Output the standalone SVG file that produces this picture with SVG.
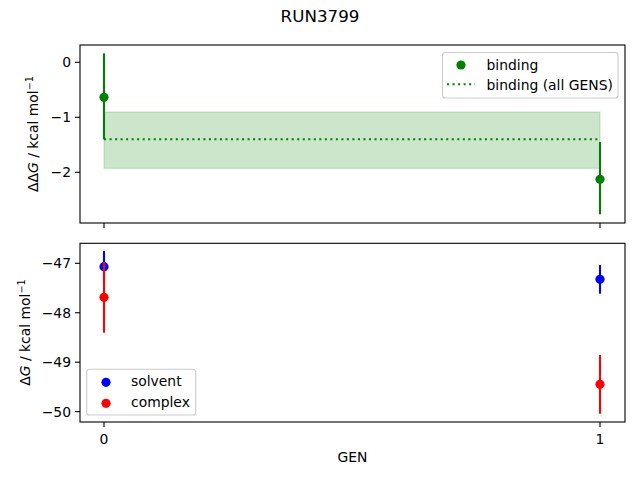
<svg xmlns="http://www.w3.org/2000/svg" width="640" height="480" viewBox="0 0 640 480">
<style>
text{font-family:"DejaVu Sans",sans-serif;font-size:13.9px;fill:#000}
.spine{fill:none;stroke:#000;stroke-width:1.1}
.tick{stroke:#000;stroke-width:1.1}
.yt{text-anchor:end}
.xt{text-anchor:middle}
.eb{stroke-width:2.08;fill:none}
.leg{fill:#fff;fill-opacity:0.8;stroke:#cccccc;stroke-width:1.1}
</style>
<rect width="640" height="480" fill="#fff"/>
<text id="title" x="320" y="22" text-anchor="middle" style="font-size:16.7px">RUN3799</text>

<g id="top-axes">
<rect x="104" y="112" width="496" height="56.3" fill="#008000" fill-opacity="0.2" stroke="#008000" stroke-opacity="0.2" stroke-width="1.1"/>
<line x1="104" y1="139.3" x2="600" y2="139.3" stroke="#008000" stroke-width="2.08" stroke-dasharray="2.08 3.44"/>
<line class="eb" x1="104" y1="53.3" x2="104" y2="139.3" stroke="#008000"/>
<circle cx="104" cy="97.3" r="4.6" fill="#008000"/>
<line class="eb" x1="600" y1="142" x2="600" y2="214.3" stroke="#008000"/>
<circle cx="600" cy="179.3" r="4.6" fill="#008000"/>
<rect class="spine" x="80" y="45" width="545" height="178"/>
<line class="tick" x1="104" y1="223" x2="104" y2="228"/>
<line class="tick" x1="600" y1="223" x2="600" y2="228"/>
<line class="tick" x1="75" y1="62.3" x2="80" y2="62.3"/>
<line class="tick" x1="75" y1="117.3" x2="80" y2="117.3"/>
<line class="tick" x1="75" y1="172.3" x2="80" y2="172.3"/>
<text class="yt" x="71" y="67.3">0</text>
<text class="yt" x="71" y="122.3">−1</text>
<text class="yt" x="71" y="177.3">−2</text>
<text transform="translate(38,134) rotate(-90)" text-anchor="middle">ΔΔ<tspan font-style="italic">G</tspan> / kcal mol<tspan dy="-5" style="font-size:9.7px">−1</tspan></text>
<g id="legend-top">
<rect class="leg" x="442.5" y="52.5" width="175.5" height="45.5" rx="2.8"/>
<circle cx="461" cy="65" r="4.6" fill="#008000"/>
<text x="486.5" y="70">binding</text>
<line x1="447" y1="84.3" x2="475" y2="84.3" stroke="#008000" stroke-width="2.08" stroke-dasharray="2.08 3.44"/>
<text x="486.5" y="89.5">binding (all GENS)</text>
</g>
</g>

<g id="bottom-axes">
<line class="eb" x1="104" y1="251" x2="104" y2="282.4" stroke="#0000ff"/>
<circle cx="104" cy="266.7" r="4.6" fill="#0000ff"/>
<line class="eb" x1="104" y1="262" x2="104" y2="332.7" stroke="#ff0000"/>
<circle cx="104" cy="297.3" r="4.6" fill="#ff0000"/>
<line class="eb" x1="600" y1="265" x2="600" y2="293.7" stroke="#0000ff"/>
<circle cx="600" cy="279.3" r="4.6" fill="#0000ff"/>
<line class="eb" x1="600" y1="355" x2="600" y2="413.7" stroke="#ff0000"/>
<circle cx="600" cy="384.3" r="4.6" fill="#ff0000"/>
<rect class="spine" x="80" y="243.3" width="545" height="178.7"/>
<line class="tick" x1="104" y1="422" x2="104" y2="427"/>
<line class="tick" x1="600" y1="422" x2="600" y2="427"/>
<text class="xt" x="104" y="443.5">0</text>
<text class="xt" x="600" y="443.5">1</text>
<line class="tick" x1="75" y1="263.3" x2="80" y2="263.3"/>
<line class="tick" x1="75" y1="312.75" x2="80" y2="312.75"/>
<line class="tick" x1="75" y1="362.2" x2="80" y2="362.2"/>
<line class="tick" x1="75" y1="411.65" x2="80" y2="411.65"/>
<text class="yt" x="71" y="268.3">−47</text>
<text class="yt" x="71" y="317.75">−48</text>
<text class="yt" x="71" y="367.2">−49</text>
<text class="yt" x="71" y="416.65">−50</text>
<text transform="translate(30,332.5) rotate(-90)" text-anchor="middle">Δ<tspan font-style="italic">G</tspan> / kcal mol<tspan dy="-5" style="font-size:9.7px">−1</tspan></text>
<text class="xt" x="352.5" y="462">GEN</text>
<g id="legend-bottom">
<rect class="leg" x="86.7" y="369.3" width="109" height="45.7" rx="2.8"/>
<circle cx="106" cy="382.3" r="4.6" fill="#0000ff"/>
<text x="131" y="386">solvent</text>
<circle cx="106" cy="403.3" r="4.6" fill="#ff0000"/>
<text x="131" y="407">complex</text>
</g>
</g>
</svg>
